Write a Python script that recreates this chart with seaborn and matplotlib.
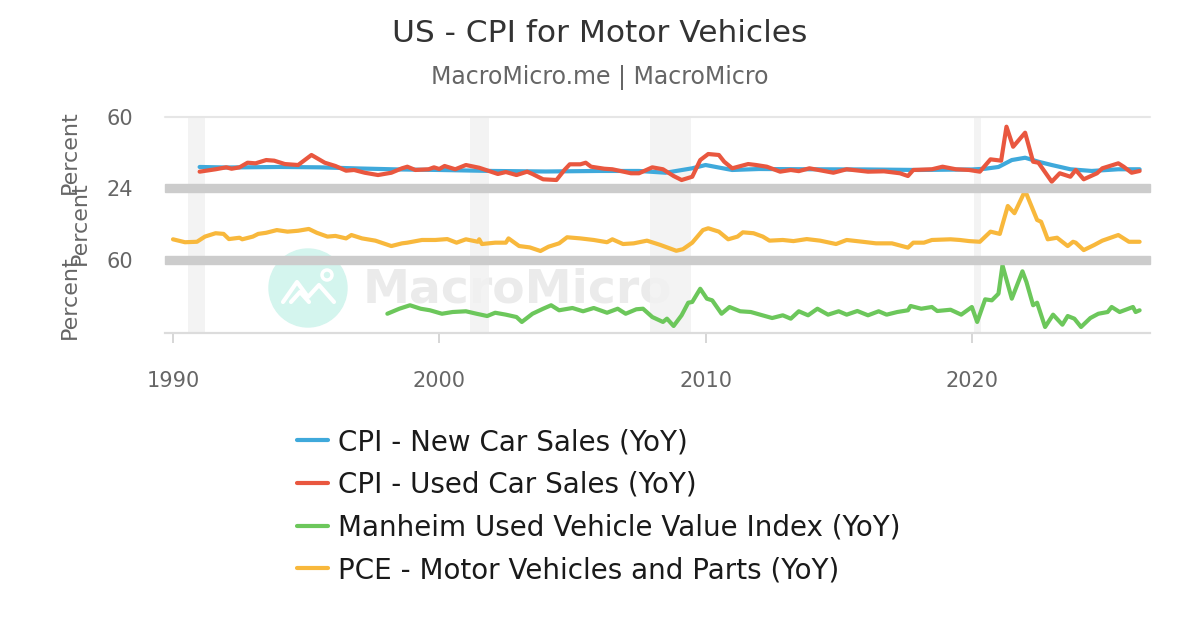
import numpy as np
import pandas as pd
import matplotlib
matplotlib.use("Agg")
import matplotlib.pyplot as plt
import seaborn as sns
from matplotlib.patches import Rectangle, Ellipse
from matplotlib.lines import Line2D

# ---------------- data ----------------
new_car_years = [1991.0, 1992.0, 1994.0, 1995.5, 1997.0, 1998.5, 2000.0, 2002.0, 2004.0,
                 2006.0, 2007.5, 2008.5, 2009.5, 2010.0, 2010.6, 2011.0, 2012.0, 2014.0,
                 2016.0, 2018.0, 2020.0, 2020.5, 2021.0, 2021.5, 2022.0, 2022.5, 2023.0,
                 2023.7, 2024.5, 2025.5, 2026.3]
new_car_vals = [3.7, 3.1, 3.7, 3.3, 2.0, 0.9, 0.3, -0.8, -1.4,
                -0.8, -0.8, -2.8, 2.2, 5.9, 2.5, 0.3, 1.4, 1.1,
                0.9, 0.3, 0.9, 1.7, 3.7, 11.5, 14.1, 9.6, 5.9,
                1.1, -0.8, 1.1, 1.1]

used_car_years = [1991.0, 1991.6, 1992.0, 1992.2, 1992.5, 1992.8, 1993.1, 1993.5, 1993.8,
                  1994.2, 1994.7, 1995.2, 1995.7, 1996.1, 1996.5, 1996.8, 1997.2, 1997.7,
                  1998.2, 1998.6, 1998.8, 1999.1, 1999.6, 1999.8, 2000.0, 2000.2, 2000.6,
                  2001.0, 2001.5, 2002.2, 2002.5, 2002.9, 2003.3, 2003.5, 2003.9, 2004.4,
                  2004.7, 2004.9, 2005.3, 2005.5, 2005.7, 2006.2, 2006.5, 2007.2, 2007.5,
                  2008.0, 2008.4, 2008.8, 2009.1, 2009.5, 2009.8, 2010.1, 2010.5, 2010.7,
                  2011.0, 2011.6, 2011.9, 2012.3, 2012.8, 2013.2, 2013.5, 2013.9, 2014.8,
                  2015.3, 2016.1, 2016.7, 2017.3, 2017.6, 2017.8, 2018.5, 2018.9, 2019.4,
                  2019.9, 2020.3, 2020.7, 2021.1, 2021.3, 2021.55, 2022.0, 2022.3, 2022.5,
                  2023.0, 2023.3, 2023.7, 2023.9, 2024.2, 2024.7, 2024.9, 2025.5, 2025.7,
                  2026.0, 2026.3]
used_car_vals = [-1.6, 1.1, 3.3, 1.7, 3.3, 8.5, 7.8, 11.5, 10.8,
                 7.0, 5.9, 17.2, 8.5, 4.8, -0.5, 0.3, -2.8, -5.4,
                 -2.8, 2.2, 4.0, 0.3, 1.1, 3.3, 1.4, 4.8, 1.1,
                 5.9, 2.8, -4.2, -2.0, -5.4, -1.6, -4.2, -10.2, -11.0,
                 0.3, 6.7, 6.7, 8.5, 4.0, 1.7, 1.1, -3.4, -3.4,
                 3.3, 1.1, -6.5, -11.0, -7.3, 11.5, 18.3, 17.2, 9.6,
                 2.2, 7.0, 5.9, 4.0, -1.6, 0.3, -1.0, 2.2, -2.8,
                 1.1, -1.6, -1.2, -3.4, -6.5, 0.3, 1.1, 4.0, 1.1,
                 0.3, -1.6, 12.3, 10.8, 49.1, 26.5, 42.3, 9.6, 8.5,
                 -12.9, -3.4, -7.3, 0.3, -10.2, -3.4, 2.2, 7.8, 4.0,
                 -2.8, -0.8]

pce_years = [1990.0, 1990.45, 1990.9, 1991.2, 1991.6, 1991.9, 1992.1, 1992.5, 1992.6,
             1993.0, 1993.2, 1993.5, 1993.9, 1994.3, 1994.7, 1995.1, 1995.4, 1995.8,
             1996.1, 1996.5, 1996.7, 1997.1, 1997.6, 1998.2, 1998.6, 1998.8, 1999.35,
             1999.85, 2000.3, 2000.65, 2001.0, 2001.45, 2001.5, 2001.6, 2002.1, 2002.5,
             2002.6, 2003.0, 2003.4, 2003.8, 2004.1, 2004.5, 2004.8, 2005.3, 2005.8,
             2006.3, 2006.5, 2006.9, 2007.3, 2007.8, 2008.3, 2008.9, 2009.15, 2009.5,
             2009.9, 2010.1, 2010.5, 2010.85, 2011.2, 2011.4, 2011.8, 2012.15, 2012.4,
             2012.9, 2013.3, 2013.8, 2014.3, 2014.9, 2015.3, 2015.9, 2016.4, 2017.0,
             2017.6, 2017.8, 2018.2, 2018.5, 2019.2, 2019.55, 2019.9, 2020.3, 2020.7,
             2021.05, 2021.35, 2021.6, 2022.0, 2022.45, 2022.6, 2022.85, 2023.2, 2023.6,
             2023.8, 2023.9, 2024.2, 2024.6, 2024.9, 2025.5, 2025.9, 2026.3]
pce_vals = [1.2, -0.1, 0.1, 2.4, 3.9, 3.6, 1.3, 1.9, 1.2,
            2.4, 3.6, 4.1, 5.3, 4.6, 5.0, 5.8, 4.1, 2.4,
            2.7, 1.6, 3.1, 1.6, 0.6, -1.8, -0.6, -0.3, 0.9,
            0.9, 1.3, -0.3, 1.2, 0.1, 1.2, -0.9, -0.3, -0.3,
            1.6, -1.8, -2.4, -4.0, -2.1, -0.6, 2.1, 1.6, 0.9,
            -0.1, 1.2, -0.9, -0.6, 0.6, -1.3, -3.9, -3.2, -0.3,
            5.3, 6.1, 4.6, 1.2, 2.4, 4.3, 3.9, 2.4, 0.6,
            0.9, 0.4, 1.3, 0.6, -0.9, 0.9, 0.1, -0.6, -0.6,
            -2.5, -0.3, -0.3, 0.9, 1.2, 0.9, 0.4, 0.1, 4.6,
            3.6, 16.0, 12.8, 22.8, 9.8, 9.0, 1.2, 1.9, -1.8,
            0.1, -0.3, -3.6, -1.3, 0.6, 3.1, 0.1, 0.1]

manheim_years = [1998.05, 1998.5, 1998.9, 1999.3, 1999.65, 2000.1, 2000.5, 2001.0, 2001.4,
                 2001.8, 2002.1, 2002.5, 2002.9, 2003.1, 2003.5, 2003.9, 2004.2, 2004.5,
                 2005.0, 2005.4, 2005.8, 2006.3, 2006.7, 2007.0, 2007.4, 2007.65, 2008.0,
                 2008.4, 2008.55, 2008.8, 2009.1, 2009.35, 2009.5, 2009.8, 2010.05, 2010.25,
                 2010.6, 2010.9, 2011.3, 2011.7, 2012.05, 2012.5, 2012.9, 2013.2, 2013.5,
                 2013.85, 2014.2, 2014.6, 2015.0, 2015.3, 2015.7, 2016.1, 2016.5, 2016.8,
                 2017.2, 2017.6, 2017.7, 2018.1, 2018.5, 2018.7, 2019.2, 2019.6, 2020.0,
                 2020.2, 2020.5, 2020.75, 2021.0, 2021.15, 2021.5, 2021.9, 2022.05, 2022.3,
                 2022.45, 2022.75, 2023.05, 2023.4, 2023.6, 2023.85, 2024.1, 2024.45, 2024.75,
                 2025.1, 2025.25, 2025.55, 2026.05, 2026.15, 2026.3]
manheim_vals = [1.1, 6.6, 10.4, 6.6, 4.9, 1.1, 3.0, 3.8, 1.1,
                -1.4, 2.2, 0.1, -2.5, -7.9, 1.1, 6.6, 10.4, 4.9,
                7.4, 3.8, 7.4, 2.2, 6.6, 1.1, 6.0, 6.6, -2.5,
                -7.9, -4.3, -12.3, -0.6, 13.2, 14.0, 28.5, 17.6, 15.8,
                1.1, 8.5, 3.8, 3.0, 0.1, -3.6, -0.6, -4.3, 3.8,
                -0.6, 6.6, 0.1, 3.8, 0.1, 4.1, -0.6, 3.8, 0.1,
                3.0, 4.9, 9.6, 6.6, 8.5, 4.1, 5.5, 0.1, 8.5,
                -7.9, 16.9, 15.8, 23.1, 54.2, 17.6, 47.6, 35.9, 10.4,
                13.2, -13.4, 0.1, -10.9, -1.4, -4.3, -13.4, -3.6, 1.1,
                3.0, 8.5, 3.0, 8.5, 3.0, 4.9]

recessions = [(1990.55, 1991.22), (2001.17, 2001.87), (2007.92, 2009.46), (2020.08, 2020.33)]
x_ticks = [1990, 2000, 2010, 2020]
labels = ["CPI - New Car Sales (YoY)", "CPI - Used Car Sales (YoY)",
          "Manheim Used Vehicle Value Index (YoY)", "PCE - Motor Vehicles and Parts (YoY)"]
colors = ["#3fa9db", "#e9573f", "#6cc75b", "#f8b83c"]

# ---------------- figure ----------------
sns.set_style("white")
plt.rcParams["font.family"] = ["DejaVu Sans"]

W, H = 1200, 630
fig = plt.figure(figsize=(12, 6.3), dpi=100)

def fx(px):
    return px / W

def fy(py):
    return 1 - py / H

L, R = 165, 1150
ax1 = fig.add_axes([fx(L), fy(188), (R - L) / W, 71 / H])
ax2 = fig.add_axes([fx(L), fy(260), (R - L) / W, 72 / H])
ax3 = fig.add_axes([fx(L), fy(333), (R - L) / W, 73 / H])
axes = [ax1, ax2, ax3]

# watermark (behind everything)
fig.add_artist(Ellipse((fx(308), fy(288)), 78 / W, 78 / H, color="#d4f5ee", zorder=-2,
                       transform=fig.transFigure))
icon_x = [283, 297, 308, 319, 334]
icon_y = [302, 282, 297, 285, 302]
fig.add_artist(Line2D([fx(v) for v in icon_x], [fy(v) for v in icon_y], color="white",
                      lw=3, zorder=-1, transform=fig.transFigure))
fig.add_artist(Line2D([fx(v) for v in [291, 300, 309]], [fy(v) for v in [302, 292, 302]],
                      color="white", lw=3, zorder=-1, transform=fig.transFigure))
fig.add_artist(Ellipse((fx(327), fy(275)), 10 / W, 10 / H, facecolor="none", edgecolor="white",
                       lw=2.5, zorder=-1, transform=fig.transFigure))
fig.text(fx(517), fy(290), "MacroMicro", fontsize=34, fontweight="bold", color="#ebebeb",
         ha="center", va="center", zorder=-1)

for ax in axes:
    ax.set_facecolor("none")
    for s in ax.spines.values():
        s.set_visible(False)
    ax.set_xlim(1989.7, 2026.69)
    for s, e in recessions:
        ax.axvspan(s, e, color="#f2f2f2", lw=0, zorder=0, alpha=0.85)
    ax.tick_params(axis="y", length=0, pad=23, labelsize=15, labelcolor="#666666")

ax1.set_ylim(-20, 60)
ax2.set_ylim(-8, 24)
ax3.set_ylim(-20, 60)
ax1.set_yticks([60])
ax1.set_yticklabels(["60"])
ax2.set_yticks([24])
ax2.set_yticklabels(["24"])
ax3.set_yticks([60])
ax3.set_yticklabels(["60"])

lw = 3.0
sns.lineplot(x=new_car_years, y=new_car_vals, ax=ax1, color=colors[0], lw=lw, zorder=3)
sns.lineplot(x=used_car_years, y=used_car_vals, ax=ax1, color=colors[1], lw=lw, zorder=4)
sns.lineplot(x=pce_years, y=pce_vals, ax=ax2, color=colors[3], lw=lw, zorder=3)
sns.lineplot(x=manheim_years, y=manheim_vals, ax=ax3, color=colors[2], lw=lw, zorder=3)

ax1.axhline(60, color="#e6e6e6", lw=1.5, zorder=1, clip_on=False)

for ax in (ax1, ax2):
    ax.set_xticks([])
    ax.set_xlabel("")
    ax.set_ylabel("")

ax3.set_xlabel("")
ax3.set_ylabel("")
ax3.set_xticks(x_ticks)
ax3.set_xticklabels([str(t) for t in x_ticks])
ax3.spines["bottom"].set_visible(True)
ax3.spines["bottom"].set_color("#dcdcdc")
ax3.spines["bottom"].set_linewidth(1.6)
ax3.tick_params(axis="x", bottom=True, length=7.2, width=1.2, color="#d0d0d0", pad=20,
                labelsize=15, labelcolor="#666666")

# separator bands between panels
for top in (184, 256):
    fig.add_artist(Rectangle((fx(L), fy(top + 8)), (R - L) / W, 8 / H, color="#cccccc",
                             zorder=5, transform=fig.transFigure))

# axis titles
for px, py in [(70, 152), (80, 223), (70, 297)]:
    fig.text(fx(px), fy(py), "Percent", rotation=90, ha="center", va="center",
             fontsize=16, color="#666666")

# title / subtitle
fig.text(0.5, fy(33), "US - CPI for Motor Vehicles", ha="center", va="center",
         fontsize=22.5, color="#333333")
fig.text(0.5, fy(78), "MacroMicro.me | MacroMicro", ha="center", va="center",
         fontsize=17, color="#666666")

# legend
handles = [Line2D([0], [0], color=c, lw=3) for c in colors]
fig.legend(handles, labels, loc="upper left", bbox_to_anchor=(fx(297), fy(428)),
           frameon=False, fontsize=20, handlelength=1.12, handletextpad=0.36,
           labelspacing=0.53, borderpad=0, borderaxespad=0, labelcolor="#1a1a1a")

fig.savefig("out.png", dpi=100)
